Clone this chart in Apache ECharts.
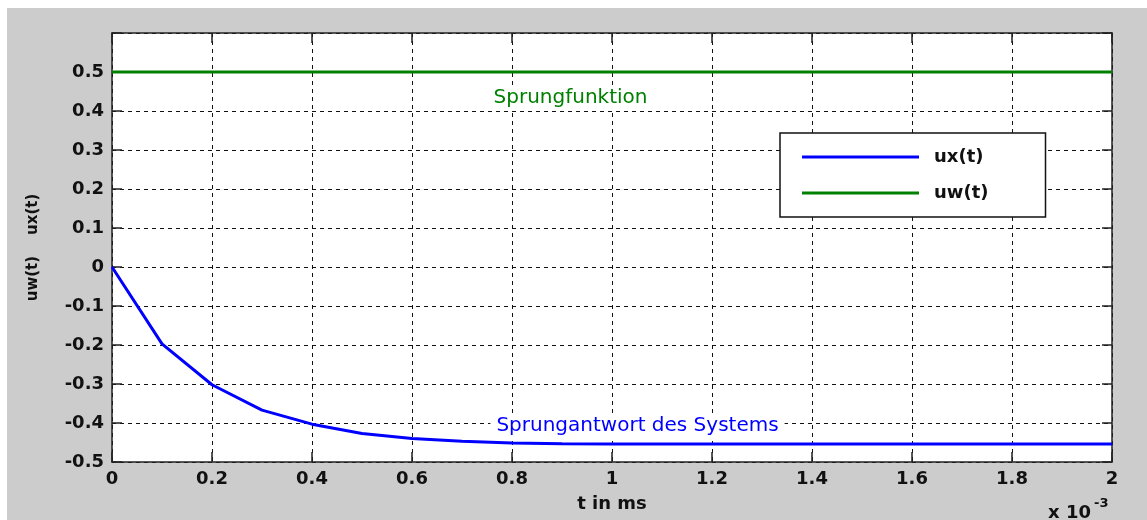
<!DOCTYPE html>
<html>
<head>
<meta charset="utf-8">
<script src="https://cdn.jsdelivr.net/npm/echarts@6/dist/echarts.min.js"></script>
<style>
  html, body { margin: 0; padding: 0; background: #ffffff; }
  #c { position: absolute; left: 7px; top: 8px; width: 1140px; height: 512px; }
</style>
</head>
<body>
<div id="c"></div>
<script>
// time in units of 1e-3 s (axis shows "x 10^-3")
const tValues  = [0, 0.1, 0.2, 0.3, 0.4, 0.5, 0.6, 0.7, 0.8, 0.9, 1.0, 1.1, 1.2, 1.3, 1.4, 1.5, 1.6, 1.7, 1.8, 1.9, 2.0];
const uxValues = [0, -0.197, -0.302, -0.367, -0.403, -0.427, -0.440, -0.447, -0.451, -0.453, -0.454, -0.454, -0.454, -0.454, -0.454, -0.454, -0.454, -0.454, -0.454, -0.454, -0.454];
const uwTimes  = [0, 2.0];
const uwValues = [0.5, 0.5];
const seriesNames = ['ux(t)', 'uw(t)'];
const annotations = [
  { text: 'Sprungfunktion', t: 0.917, v: 0.433, color: '#008000' },
  { text: 'Sprungantwort des Systems', t: 1.051, v: -0.408, color: '#0000ff' }
];
const xAxisTitle = 't in ms';
const yAxisTitle = 'uw(t)    ux(t)';
const xScaleNote = 'x 10';
const xScaleExp = '-3';

const fmt = v => { const r = Math.round(v * 10) / 10; return String(r); };
const fmtY = v => { const r = Math.round(v * 10) / 10; return r > 0.55 ? '' : String(r); };

const labelFont = { fontFamily: 'DejaVu Sans', fontWeight: 'bold', fontSize: 18, color: '#111' };
const axisLineStyle = { color: '#222', width: 1.5 };
const splitStyle = { color: '#111', width: 1, type: [4, 4] };

const chart = echarts.init(document.getElementById('c'), null, { renderer: 'canvas' });
chart.setOption({
  backgroundColor: '#cccccc',
  animation: false,
  grid: { left: 105, top: 25, width: 1000, height: 429, show: true, backgroundColor: '#ffffff', borderWidth: 0 },
  legend: {
    data: seriesNames.map(n => ({ name: n, icon: 'rect' })),
    orient: 'vertical',
    left: 773, top: 125,
    backgroundColor: '#ffffff',
    borderColor: '#111', borderWidth: 1.5,
    padding: [15, 57, 15, 22],
    itemWidth: 117, itemHeight: 3, itemGap: 18,
    textStyle: { fontFamily: 'DejaVu Sans', fontWeight: 'bold', fontSize: 18, color: '#111', padding: [0, 0, 0, 10] }
  },
  xAxis: [{
    type: 'value', min: 0, max: 2, interval: 0.2, position: 'bottom',
    name: xAxisTitle, nameLocation: 'middle', nameGap: 33,
    nameTextStyle: labelFont,
    axisLine: { show: true, onZero: false, lineStyle: axisLineStyle },
    axisTick: { show: true, inside: true, length: 10, lineStyle: { color: '#222', width: 1.5 } },
    axisLabel: Object.assign({ margin: 8, formatter: fmt }, labelFont),
    splitLine: { show: true, lineStyle: splitStyle }
  }, {
    type: 'value', min: 0, max: 2, interval: 0.2, position: 'top',
    axisLine: { show: true, onZero: false, lineStyle: axisLineStyle },
    axisTick: { show: true, inside: true, length: 10, lineStyle: { color: '#222', width: 1.5 } },
    axisLabel: { show: false },
    splitLine: { show: false }
  }],
  yAxis: [{
    type: 'value', min: -0.5, max: 0.6, interval: 0.1, position: 'left',
    name: yAxisTitle, nameLocation: 'middle', nameGap: 71, nameRotate: 90,
    nameTextStyle: { fontFamily: 'DejaVu Sans', fontWeight: 'bold', fontSize: 15, color: '#111' },
    axisLine: { show: true, onZero: false, lineStyle: axisLineStyle },
    axisTick: { show: true, inside: true, length: 10, lineStyle: { color: '#222', width: 1.5 } },
    axisLabel: Object.assign({ margin: 8, formatter: fmtY }, labelFont),
    splitLine: { show: true, lineStyle: splitStyle }
  }, {
    type: 'value', min: -0.5, max: 0.6, interval: 0.1, position: 'right',
    axisLine: { show: true, onZero: false, lineStyle: axisLineStyle },
    axisTick: { show: true, inside: true, length: 10, lineStyle: { color: '#222', width: 1.5 } },
    axisLabel: { show: false },
    splitLine: { show: false }
  }],
  series: [{
    name: seriesNames[0], type: 'line', xAxisIndex: 0, yAxisIndex: 0,
    data: tValues.map((t, i) => [t, uxValues[i]]),
    symbol: 'none', lineStyle: { color: '#0000ff', width: 3 }, itemStyle: { color: '#0000ff' },
    z: 3
  }, {
    name: seriesNames[1], type: 'line', xAxisIndex: 0, yAxisIndex: 0,
    data: uwTimes.map((t, i) => [t, uwValues[i]]),
    symbol: 'none', lineStyle: { color: '#008000', width: 3 }, itemStyle: { color: '#008000' },
    z: 2,
    markPoint: {
      symbol: 'rect', symbolSize: 0, silent: true,
      data: annotations.map(a => ({
        coord: [a.t, a.v],
        label: {
          show: true, position: 'inside', formatter: a.text,
          fontFamily: 'DejaVu Sans', fontSize: 20, color: a.color,
          backgroundColor: '#ffffff', padding: [1, 6]
        }
      }))
    }
  }],
  graphic: [
    { type: 'text', left: 1041, top: 496, style: { text: xScaleNote, fontFamily: 'DejaVu Sans', fontWeight: 'bold', fontSize: 18, fill: '#111' } },
    { type: 'text', left: 1087, top: 489, style: { text: xScaleExp, fontFamily: 'DejaVu Sans', fontWeight: 'bold', fontSize: 13, fill: '#111' } }
  ]
});
</script>
</body>
</html>
